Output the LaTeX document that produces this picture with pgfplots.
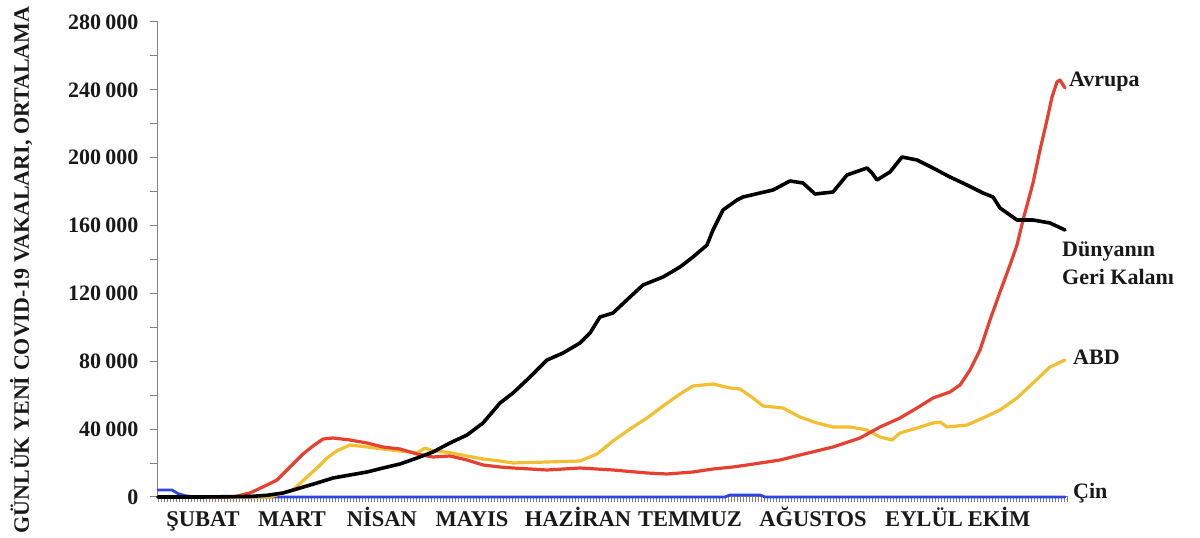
\documentclass[border=0pt]{standalone}
\usepackage{pgfplots}
\pgfplotsset{compat=1.18}
\usepackage{fontspec}
\setmainfont{Liberation Serif}
\definecolor{cred}{RGB}{232,64,48}
\definecolor{cyel}{RGB}{242,190,50}
\definecolor{cblue}{RGB}{45,70,225}
\definecolor{axc}{RGB}{130,130,130}
\definecolor{txt}{RGB}{25,25,25}
\begin{document}
\begin{tikzpicture}
\useasboundingbox (-158pt,-41pt) rectangle (1042pt,497pt);
% day ticks on the time axis
\begin{axis}[scale only axis, width=910pt, height=475pt,
  xmin=158, xmax=1068, ymin=0, ymax=280000,
  axis y line=none, axis x line*=bottom,
  x axis line style={-, draw=axc, line width=1pt},
  xtick={158,161,...,1066}, xticklabels={},
  tick align=outside, major tick length=5pt,
  x tick style={draw=axc, line width=0.8pt}, ytick=\empty,
  scaled y ticks=false]
\end{axis}
\begin{axis}[scale only axis, width=910pt, height=475pt,
  xmin=158, xmax=1068, ymin=0, ymax=280000, clip=false,
  scaled y ticks=false,
  axis x line*=bottom, axis y line*=left,
  x axis line style={draw=none},
  y axis line style={-, draw=axc, line width=1pt},
  tick align=outside, major tick length=8pt,
  x tick style={draw=none}, y tick style={axc, line width=1pt},
  ytick={0,20000,...,280000},
  yticklabels={0,{},40\hspace{0.2em}000,{},80\hspace{0.2em}000,{},120\hspace{0.2em}000,{},160\hspace{0.2em}000,{},200\hspace{0.2em}000,{},240\hspace{0.2em}000,{},280\hspace{0.2em}000},
  yticklabel style={font=\fontsize{22}{26}\selectfont\bfseries, text=txt, xshift=-8pt},
  xtick={203,292,382,472,578,690,813,924,999},
  xticklabels={ŞUBAT,MART,NİSAN,MAYIS,HAZİRAN,TEMMUZ,AĞUSTOS,EYLÜL,EKİM},
  xticklabel style={font=\fontsize{22.5}{26}\selectfont\bfseries, text=txt, text height=14.9pt, text depth=4pt, yshift=-3pt},
  ylabel={GÜNLÜK YENİ COVID-19 VAKALARI, ORTALAMA},
  every axis y label/.style={at={(axis description cs:-0.1505,0.478)}, rotate=90, anchor=center, font=\fontsize{22}{26}\selectfont\bfseries, text=txt},
  every axis plot/.append style={line join=round, line cap=round}]
% Cin
\addplot[cblue, line width=2.8pt] coordinates {(158,4126)(172,4126)(178,2000)(185,800)(195,0)(725,0)(730,1200)(760,1200)(765,0)(1065,0)};
% ABD
\addplot[cyel, line width=3.2pt] coordinates {(158,0)(270,0)(283,2358)(293,4126)(307,11789)(317,17095)(327,22989)(337,27305)(350,30653)(367,29473)(383,28295)(400,27116)(417,26000)(425,28800)(433,27305)(450,26126)(467,24168)(483,22400)(500,21221)(513,20042)(547,20632)(580,21221)(597,25347)(613,33010)(630,40084)(647,46568)(663,53642)(680,60716)(693,65431)(713,66610)(730,64252)(740,63663)(753,58358)(763,53642)(783,52463)(800,47157)(817,43621)(833,41263)(850,41263)(867,39494)(880,35368)(892,33600)(900,37726)(917,40673)(933,43621)(940,44210)(947,41263)(967,42442)(983,46568)(1000,51284)(1017,58358)(1033,67200)(1050,76631)(1065,80757)};
% Avrupa
\addplot[cred, line width=3.2pt] coordinates {(158,0)(233,0)(250,2358)(267,7074)(277,10021)(290,17684)(303,25347)(313,30063)(323,34189)(333,34779)(350,33600)(367,31831)(383,29473)(400,28295)(417,25347)(433,23579)(450,24168)(467,21810)(483,18863)(500,17684)(513,17095)(547,15916)(580,17095)(613,15916)(647,14147)(667,13558)(693,14737)(713,16505)(733,17684)(747,18863)(767,20632)(780,21810)(800,24758)(833,29473)(860,34779)(880,41263)(900,46568)(917,52463)(933,58358)(950,61895)(960,66021)(970,74863)(980,86652)(990,104336)(1000,120841)(1010,136757)(1017,148546)(1023,163283)(1033,185094)(1040,204546)(1047,222230)(1052,235788)(1057,244630)(1060,245809)(1065,241093)};
% Dunyanin Geri Kalani
\addplot[black, line width=3.6pt] coordinates {(158,0)(200,0)(250,300)(267,1000)(283,2358)(300,5305)(317,8253)(333,11200)(350,12968)(367,14737)(383,17095)(400,19453)(417,22989)(433,26526)(450,31831)(467,36547)(483,43621)(500,55410)(513,61305)(530,70736)(547,80757)(563,84884)(580,90778)(590,96673)(600,106105)(613,108462)(630,117894)(643,124968)(663,129683)(680,135578)(693,141473)(707,148546)(713,157388)(723,169178)(737,175072)(743,176841)(760,179199)(773,180967)(790,186273)(803,185094)(815,178609)(833,179788)(847,189809)(867,193935)(872,190988)(877,186861)(890,191582)(902,200424)(917,198656)(933,193935)(950,188630)(967,183914)(983,179199)(993,176841)(1000,170357)(1017,163283)(1033,163283)(1050,161515)(1065,157388)};
\begin{scope}[every node/.style={anchor=base west, inner sep=0pt, font=\fontsize{22}{26}\selectfont\bfseries, text=txt}]
\node at (axis cs:1069,241683) {Avrupa};
\node at (axis cs:1062,141473) {Dünyanın};
\node at (axis cs:1062,124968) {Geri Kalanı};
\node at (axis cs:1073,77810) {ABD};
\node at (axis cs:1073,-600) {Çin};
\end{scope}
\end{axis}
\end{tikzpicture}
\end{document}
